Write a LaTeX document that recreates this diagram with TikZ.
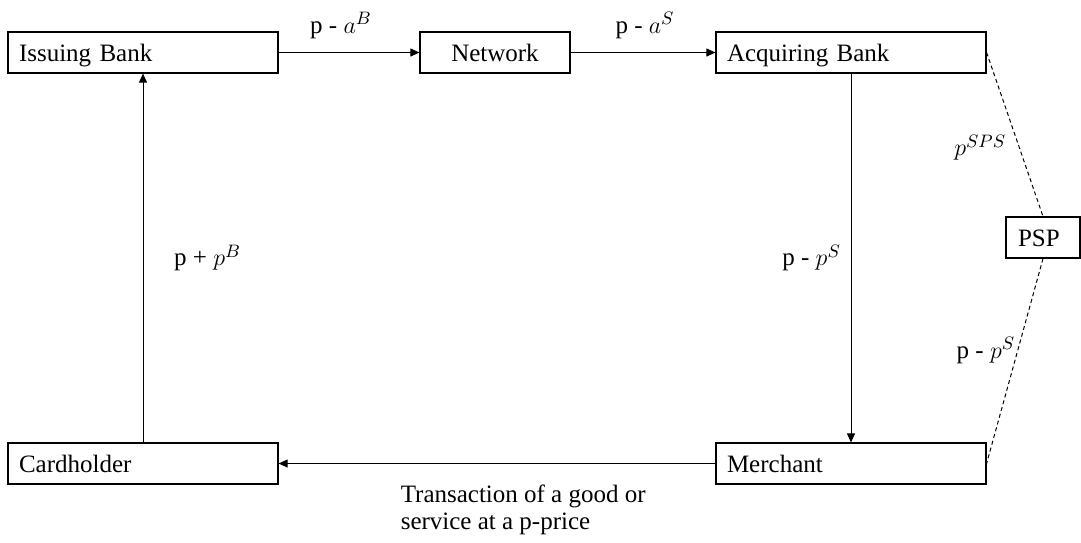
\documentclass[tikz,border=0pt]{standalone}
\usepackage{fontspec}
\setmainfont{Liberation Serif}
\usepackage{tikz}
\usetikzlibrary{arrows.meta}
\tikzset{>={Triangle[length=4.5pt,width=4pt]}}
\tikzset{
  box/.style={draw, line width=0.6pt, minimum height=20.5pt, inner xsep=5.5pt, align=left, text height=9pt, text depth=0pt},
  widebox/.style={box, text width=124pt},
  flow/.style={->, line width=0.5pt},
  link/.style={line width=0.5pt, dash pattern=on 2pt off 1.5pt}
}

\begin{document}
\begin{tikzpicture}[x=0.5pt,y=-0.5pt,font=\fontsize{12.5}{13.5}\selectfont]
    \useasboundingbox (0,0) rectangle (1081,542);

    \node[widebox] at (143, 52.5)   (issuer) {Issuing Bank};
    \node[box, minimum width=75pt, align=center] at (495, 52.5)   (network) {Network};
    \node[widebox] at (851, 52.5)   (acquirer) {Acquiring Bank};
    \node[box, text width=25pt, inner xsep=6pt] at (1043, 237.5)   (psp) {PSP};
    \node[widebox] at (143, 463.5)   (holder) {Cardholder};
    \node[widebox] at (851, 463.5)   (merchant) {Merchant};

    \draw[flow] (issuer) -- node[xshift=-4pt, yshift=13.5pt] {p - $a^{B}$} (network);
    \draw[flow] (network) -- node[xshift=1pt, yshift=13.5pt] {p - $a^{S}$} (acquirer);
    \draw[flow] (acquirer) -- node[left=1.5pt] {p - $p^{S}$} (merchant);
    \draw[flow] (merchant) -- node[pos=0.44, below=7pt, align=left] {Transaction of a good or\\service at a p-price} (holder);
    \draw[flow] (holder) -- node[right=12pt] {p + $p^{B}$} (issuer);
    \draw[link] (acquirer.east) -- node[pos=0.58, left=3pt] {$p^{SPS}$} (psp.north);
    \draw[link] (psp.south) -- node[pos=0.45, left=0pt, inner sep=1pt] {p - $p^{S}$} (merchant.east);
\end{tikzpicture}
\end{document}
